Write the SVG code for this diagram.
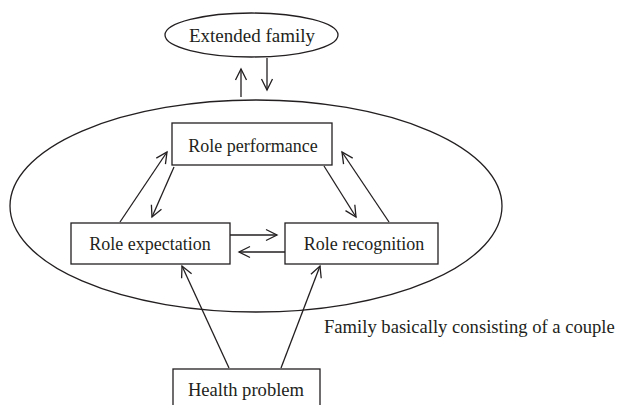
<svg xmlns="http://www.w3.org/2000/svg" width="620" height="405" viewBox="0 0 620 405">
  <style>
    .shape { fill: none; stroke: #231f20; stroke-width: 1.3; }
    .box { fill: #ffffff; stroke: #231f20; stroke-width: 1.3; }
    .label { font-family: "Liberation Serif", "Times New Roman", serif; font-size: 18px; fill: #231f20; }
    .big { font-size: 18.6px; }
    .mid { text-anchor: middle; }
    .conn line { stroke: #231f20; stroke-width: 1.3; fill: none; marker-end: url(#arrow); }
  </style>
  <defs>
    <marker id="arrow" markerUnits="userSpaceOnUse" viewBox="-12 -7 14 14" refX="0" refY="0" markerWidth="14" markerHeight="14" orient="auto">
      <path d="M-11,-5.5 L0,0 L-11,5.5" fill="none" stroke="#231f20" stroke-width="1.3"/>
    </marker>
  </defs>

  <rect width="620" height="405" fill="#ffffff"/>

  <!-- the couple's family, enclosing the three role nodes -->
  <g id="family">
    <ellipse class="shape" cx="256" cy="206" rx="246" ry="106"/>
    <text class="label big" x="324" y="333">Family basically consisting of a couple</text>
  </g>

  <g id="extended-family">
    <ellipse class="box" cx="251.5" cy="35" rx="86.5" ry="22"/>
    <text class="label mid" x="252" y="42" style="font-size:19px">Extended family</text>
  </g>

  <g id="role-performance">
    <rect class="box" x="172" y="123" width="160" height="42"/>
    <text class="label mid" x="253" y="152">Role performance</text>
  </g>

  <g id="role-expectation">
    <rect class="box" x="71" y="223" width="159" height="41"/>
    <text class="label mid" x="150" y="250">Role expectation</text>
  </g>

  <g id="role-recognition">
    <rect class="box" x="285" y="223" width="153" height="41"/>
    <text class="label mid" x="364" y="250">Role recognition</text>
  </g>

  <g id="health-problem">
    <rect class="box" x="173" y="369" width="147" height="40"/>
    <text class="label big mid" x="246" y="396">Health problem</text>
  </g>

  <g id="connectors" class="conn">
    <line x1="241" y1="97" x2="241" y2="69"/>
    <line x1="267" y1="58" x2="267" y2="90"/>
    <line x1="120" y1="222" x2="167" y2="152"/>
    <line x1="174" y1="167" x2="152" y2="217"/>
    <line x1="324" y1="166" x2="356" y2="217"/>
    <line x1="389" y1="222" x2="342" y2="152"/>
    <line x1="230" y1="235" x2="277" y2="235"/>
    <line x1="285" y1="252" x2="239" y2="252"/>
    <line x1="229" y1="368" x2="182" y2="266"/>
    <line x1="281" y1="368" x2="320" y2="266"/>
  </g>
</svg>
